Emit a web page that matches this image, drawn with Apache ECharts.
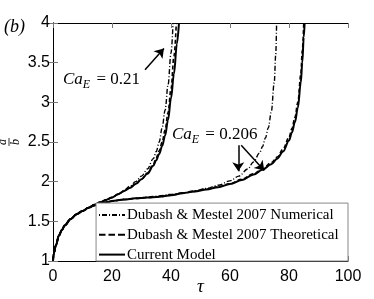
<!DOCTYPE html>
<html><head><meta charset="utf-8">
<script src="https://cdn.jsdelivr.net/npm/echarts@6/dist/echarts.min.js"></script>
<style>html,body{margin:0;padding:0;background:#fff}#c{width:374px;height:299px}</style>
</head><body><div id="c"></div>
<script>
// x ticks and y ticks
const xTicks = [0, 20, 40, 60, 80, 100];
const yTicks = [1, 1.5, 2, 2.5, 3, 3.5, 4];
const legendNames = ['Dubash & Mestel 2007 Numerical', 'Dubash & Mestel 2007 Theoretical', 'Current Model'];

// Ca_E = 0.21
const tau21S = [0,0.3,1,2,3,4,6,8,10,12,14,16,18,20,22,24,26,28,30,32,34,35,36,37,38,39,40,41,42,42.7];
const a21S   = [1,1.1,1.2,1.32,1.39,1.45,1.53,1.59,1.63,1.67,1.71,1.74,1.77,1.8,1.84,1.88,1.92,1.97,2.03,2.1,2.2,2.27,2.35,2.45,2.58,2.78,3.05,3.36,3.74,4.0];
const tau21N = [0,0.3,1,2,3,4,6,8,10,12,14,16,18,20,22,24,26,28,30,32,34,35,36,37,38,39,40,40.7];
const a21N   = [1,1.1,1.2,1.32,1.39,1.45,1.53,1.59,1.63,1.67,1.71,1.74,1.77,1.8,1.84,1.89,1.94,2.0,2.07,2.16,2.29,2.38,2.5,2.68,2.9,3.22,3.62,4.0];
const tau21T = [0,0.3,1,2,3,4,6,8,10,12,14,16,18,20,22,24,26,28,30,32,34,35,36,37,38,39,40,41,41.8];
const a21T   = [1,1.1,1.2,1.32,1.39,1.45,1.53,1.59,1.63,1.67,1.71,1.74,1.77,1.8,1.84,1.88,1.92,1.97,2.03,2.11,2.22,2.3,2.39,2.5,2.65,2.87,3.17,3.58,4.0];

// Ca_E = 0.206
const tau206S = [0,0.3,1,2,3,4,6,8,10,12,14,16,18,20,24,28,32,36,40,44,48,52,56,60,64,68,71,74,76,78,80,81,82,83,84,84.5,85,85.3];
const a206S   = [1,1.1,1.2,1.32,1.39,1.45,1.53,1.59,1.63,1.67,1.7,1.72,1.74,1.755,1.775,1.79,1.8,1.81,1.83,1.855,1.875,1.9,1.93,1.97,2.02,2.09,2.15,2.22,2.29,2.38,2.52,2.62,2.75,2.93,3.25,3.5,3.82,4.0];
const tau206N = [0,0.3,1,2,3,4,6,8,10,12,14,16,18,20,24,28,32,36,40,44,48,52,56,60,63,66,68,70,71,72,73,74,75,75.5,75.8];
const a206N   = [1,1.1,1.2,1.32,1.39,1.45,1.53,1.59,1.63,1.67,1.7,1.72,1.74,1.755,1.775,1.79,1.805,1.82,1.84,1.86,1.885,1.915,1.955,2.01,2.07,2.16,2.25,2.36,2.44,2.55,2.68,2.88,3.25,3.6,4.0];
const tau206T = [0,0.3,1,2,3,4,6,8,10,12,14,16,18,20,24,28,32,36,40,44,48,52,56,60,64,68,71,74,76,78,80,81,82,83,84,84.5,85];
const a206T   = [1,1.1,1.2,1.32,1.39,1.45,1.53,1.59,1.63,1.67,1.7,1.72,1.74,1.755,1.775,1.79,1.8,1.81,1.83,1.855,1.878,1.905,1.935,1.975,2.03,2.1,2.16,2.24,2.31,2.41,2.56,2.67,2.81,3.0,3.35,3.65,4.0];

const zip = (xs, ys) => xs.map((x, i) => [x, ys[i]]);
const DASHDOT = [5, 2, 1, 2];
const DASH = [4, 2.5];

// legend sample icons (dash patterns drawn as small bars)
const ICON_DASHDOT = 'path://M0,0H1V2H0Z M3,0H8V2H3Z M10,0H11V2H10Z M13,0H18V2H13Z M20,0H21V2H20Z M23,0H26V2H23Z';
const ICON_DASH = 'path://M0,0H6.5V2H0Z M9.5,0H16V2H9.5Z M19,0H26V2H19Z';
const ICON_SOLID = 'path://M0,0H26V2H0Z';

function mk(name, xs, ys, type, width) {
  return {
    name, type: 'line', data: zip(xs, ys), showSymbol: false, symbol: 'none',
    smooth: 0.35, smoothMonotone: 'x', animation: false, z: 2,
    lineStyle: { color: '#000', width, type }, itemStyle: { color: '#000' }
  };
}

const serif = '"Liberation Serif", "DejaVu Serif", serif';
const sans = '"Liberation Sans", Arial, sans-serif';

const chart = echarts.init(document.getElementById('c'), null, { renderer: 'canvas' });
const axisCommon = { type: 'value', interval: 20, min: 0, max: 100 };
const option = {
  animation: false,
  backgroundColor: '#fff',
  grid: { left: 53, right: 26, top: 23, bottom: 38, containLabel: false, outerBoundsMode: 'none' },
  xAxis: [
    Object.assign({}, axisCommon, {
      position: 'bottom',
      axisLine: { lineStyle: { color: '#000', width: 1 } },
      axisTick: { inside: true, length: 5, lineStyle: { color: '#777' } },
      axisLabel: { color: '#000', fontSize: 16, fontFamily: sans, margin: 8,
        formatter: v => xTicks.includes(v) ? String(v) : '' },
      splitLine: { show: false },
      name: 'τ', nameLocation: 'middle', nameGap: 16, nameMoveOverlap: false,
      nameTextStyle: { fontFamily: serif, fontStyle: 'italic', fontSize: 19, color: '#000' }
    }),
    Object.assign({}, axisCommon, {
      position: 'top',
      axisLine: { lineStyle: { color: '#000', width: 1 } },
      axisTick: { inside: true, length: 5, lineStyle: { color: '#777' } },
      axisLabel: { show: false }, splitLine: { show: false }
    })
  ],
  yAxis: [
    {
      type: 'value', min: 1, max: 4, interval: 0.5, position: 'left',
      axisLine: { show: true, lineStyle: { color: '#000', width: 1 } },
      axisTick: { show: true, inside: true, length: 5, lineStyle: { color: '#777' } },
      axisLabel: { color: '#000', fontSize: 16, fontFamily: sans, margin: 3,
        formatter: v => yTicks.includes(v) ? String(v) : '' },
      splitLine: { show: false }
    },
    {
      type: 'value', min: 1, max: 4, interval: 0.5, position: 'right',
      axisLine: { show: true, lineStyle: { color: '#000', width: 1 } },
      axisTick: { show: true, inside: true, length: 5, lineStyle: { color: '#777' } },
      axisLabel: { show: false }, splitLine: { show: false }
    }
  ],
  legend: {
    orient: 'vertical', left: 99, top: 207, itemGap: 3.8,
    itemWidth: 26, itemHeight: 2, padding: 0,
    data: [
      { name: legendNames[0], icon: ICON_DASHDOT },
      { name: legendNames[1], icon: ICON_DASH },
      { name: legendNames[2], icon: ICON_SOLID }
    ],
    itemStyle: { color: '#000', borderWidth: 0 },
    textStyle: { fontFamily: serif, fontSize: 15, color: '#000', padding: [0, 0, 0, -3], lineHeight: 16 },
    z: 5
  },
  series: [
    mk(legendNames[0], tau21N, a21N, DASHDOT, 1.4),
    mk(legendNames[1], tau21T, a21T, DASH, 1.6),
    mk(legendNames[2], tau21S, a21S, 'solid', 2),
    mk(legendNames[0], tau206N, a206N, DASHDOT, 1.4),
    mk(legendNames[1], tau206T, a206T, DASH, 1.6),
    Object.assign(mk(legendNames[2], tau206S, a206S, 'solid', 2), {
      markLine: {
        silent: true, animation: false, symbol: ['none', 'arrow'], symbolSize: 9,
        lineStyle: { color: '#000', width: 1.5, type: 'solid' }, label: { show: false },
        emphasis: { disabled: true },
        data: [
          [{ coord: [31.2, 3.41] }, { coord: [37.6, 3.68] }],
          [{ coord: [62.8, 2.46] }, { coord: [62.8, 2.13] }],
          [{ coord: [63.8, 2.46] }, { coord: [71.6, 2.14] }]
        ]
      }
    })
  ]
};
chart.setOption(option);

function px(t, a) { return chart.convertToPixel({ gridIndex: 0 }, [t, a]); }
const p0 = px(14.6, 1.73);
const p1 = px(100, 1);
const t21 = px(3.4, 3.26);
const t206 = px(40.3, 2.55);
const rich = {
  i: { fontFamily: serif, fontStyle: 'italic', fontSize: 17, color: '#000', verticalAlign: 'top', lineHeight: 17 },
  s: { fontFamily: serif, fontStyle: 'italic', fontSize: 12, color: '#000', verticalAlign: 'top', lineHeight: 12, padding: [8, 2, 0, 0] },
  n: { fontFamily: serif, fontSize: 17, color: '#000', verticalAlign: 'top', lineHeight: 17 }
};
chart.setOption({
  graphic: [
    { type: 'rect', z: 4, shape: { x: p0[0], y: p0[1], width: p1[0] - p0[0], height: p1[1] - p0[1] },
      style: { fill: '#fff', stroke: '#888', lineWidth: 1 } },
    { type: 'text', z: 6, left: 4, top: 18, style: { text: '(b)', font: 'italic 18px ' + serif, fill: '#000' } },
    { type: 'text', z: 6, x: t21[0], y: t21[1] - 11, style: { text: '{i|Ca}{s|E}{n| = 0.21}', rich } },
    { type: 'text', z: 6, x: t206[0], y: t206[1] - 12, style: { text: '{i|Ca}{s|E}{n| = 0.206}', rich } },
    { type: 'group', x: 9, y: 142, rotation: Math.PI / 2, z: 6, children: [
      { type: 'text', x: 0, y: -0.5, style: { text: 'a', font: 'italic 12px ' + serif, fill: '#000', align: 'center', verticalAlign: 'bottom' } },
      { type: 'line', shape: { x1: -4, y1: 0, x2: 4, y2: 0 }, style: { stroke: '#000', lineWidth: 0.8 } },
      { type: 'text', x: 0, y: 0.5, style: { text: 'b', font: 'italic 12px ' + serif, fill: '#000', align: 'center', verticalAlign: 'top' } }
    ] }
  ]
});
</script></body></html>
